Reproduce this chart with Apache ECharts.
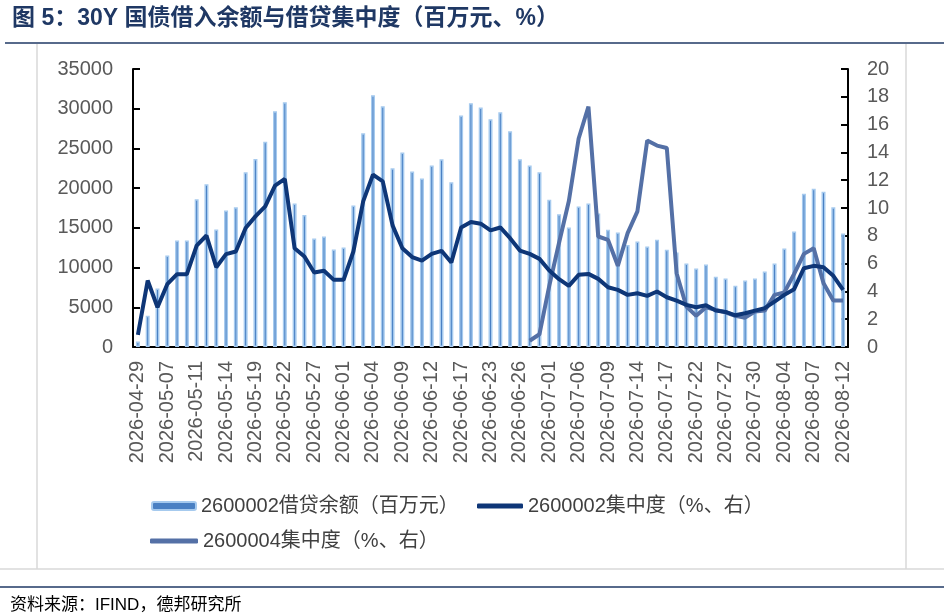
<!DOCTYPE html>
<html>
<head>
<meta charset="utf-8">
<style>
  html, body { margin: 0; padding: 0; background: #fff; }
  #main { width: 944px; height: 614px; }
</style>
<script src="https://cdn.jsdelivr.net/npm/echarts@6/dist/echarts.min.js"></script>
</head>
<body>
<div id="main"></div>
<script>
// 交易日
const dates = [
  '2026-04-29', '2026-04-30', '2026-05-06', '2026-05-07', '2026-05-08', '2026-05-09', '2026-05-11',
  '2026-05-12', '2026-05-13', '2026-05-14', '2026-05-15', '2026-05-18', '2026-05-19', '2026-05-20',
  '2026-05-21', '2026-05-22', '2026-05-25', '2026-05-26', '2026-05-27', '2026-05-28', '2026-05-29',
  '2026-06-01', '2026-06-02', '2026-06-03', '2026-06-04', '2026-06-05', '2026-06-08', '2026-06-09',
  '2026-06-10', '2026-06-11', '2026-06-12', '2026-06-15', '2026-06-16', '2026-06-17', '2026-06-18',
  '2026-06-22', '2026-06-23', '2026-06-24', '2026-06-25', '2026-06-26', '2026-06-29', '2026-06-30',
  '2026-07-01', '2026-07-02', '2026-07-03', '2026-07-06', '2026-07-07', '2026-07-08', '2026-07-09',
  '2026-07-10', '2026-07-13', '2026-07-14', '2026-07-15', '2026-07-16', '2026-07-17', '2026-07-20',
  '2026-07-21', '2026-07-22', '2026-07-23', '2026-07-24', '2026-07-27', '2026-07-28', '2026-07-29',
  '2026-07-30', '2026-07-31', '2026-08-03', '2026-08-04', '2026-08-05', '2026-08-06', '2026-08-07',
  '2026-08-10', '2026-08-11', '2026-08-12'
]

// 2600002借贷余额（百万元）
const balance = [
  700, 3950, 7360, 11520, 13410, 13410, 18590, 20480, 14800, 17200,
  17580, 21990, 23680, 25830, 29690, 30820, 18080, 16610, 13660, 13920,
  12280, 12530, 17830, 26910, 31710, 30320, 22500, 24480, 22080, 21200,
  22840, 23630, 20730, 29150, 30700, 30150, 28680, 29560, 27170, 23630,
  22840, 22000, 18550, 16700, 15060, 17700, 18080, 16820, 14760, 14430,
  12830, 13290, 12660, 13500, 12240, 11900, 10510, 9880, 10390, 8830,
  8620, 7700, 8370, 8620, 9500, 10510, 12400, 14550, 19300, 19930,
  19560, 17580, 14300
]

// 2600002集中度（%）
const conc2 = [
  0.87, 4.78, 2.86, 4.52, 5.24, 5.24, 7.30, 8.02, 5.74, 6.68,
  6.87, 8.56, 9.40, 10.12, 11.61, 12.09, 7.11, 6.51, 5.36, 5.48,
  4.83, 4.83, 6.87, 10.48, 12.40, 11.92, 8.75, 7.11, 6.47, 6.22,
  6.70, 6.92, 6.08, 8.60, 8.99, 8.87, 8.39, 8.60, 7.83, 6.94,
  6.70, 6.34, 5.50, 4.88, 4.40, 5.19, 5.26, 4.90, 4.30, 4.11,
  3.75, 3.87, 3.68, 3.99, 3.58, 3.34, 3.03, 2.86, 3.00, 2.62,
  2.52, 2.28, 2.43, 2.62, 2.79, 3.27, 3.75, 4.16, 5.67, 5.84,
  5.74, 5.12, 4.11
]

// 2600004集中度（%），6月29日起才有数据
const conc4 = [
  null, null, null, null, null, null, null, null, null, null,
  null, null, null, null, null, null, null, null, null, null,
  null, null, null, null, null, null, null, null, null, null,
  null, null, null, null, null, null, null, null, null, null,
  0.45, 0.92, 4.40, 7.50, 10.50, 15.00, 17.30, 7.95, 7.71, 5.84,
  8.19, 9.76, 14.85, 14.49, 14.32, 5.31, 2.91, 2.24, 2.86, 2.67,
  2.50, 2.24, 2.11, 2.55, 2.62, 3.75, 3.92, 5.26, 6.70, 7.11,
  4.59, 3.34, 3.34
]

const leftTicks = { min: 0, max: 35000, interval: 5000 }
const rightTicks = { min: 0, max: 20, interval: 2 }

const FONT = "Arial, 'Liberation Sans', 'Noto Sans CJK SC', sans-serif"
const names = ['2600002借贷余额（百万元）', '2600002集中度（%、右）', '2600004集中度（%、右）']

var myChart = echarts.init(document.getElementById('main'), null, { renderer: 'canvas' })

const legendText = { fontFamily: FONT, fontSize: 20, color: '#404040' }

var option = {
  backgroundColor: '#fff',
  animation: false,
  title: [
    {
      text: '图 5：30Y 国债借入余额与借贷集中度（百万元、%）',
      left: 7,
      top: 2,
      textStyle: { fontFamily: FONT, fontSize: 23, fontWeight: 'bold', color: '#1f3864' },
    },
    {
      text: '资料来源：IFIND，德邦研究所',
      left: 5,
      top: 592,
      textStyle: { fontFamily: FONT, fontSize: 17, fontWeight: 'normal', color: '#000' },
    },
  ],
  graphic: [
    { type: 'line', shape: { x1: 5, y1: 43, x2: 944, y2: 43 }, style: { stroke: '#1f3864', lineWidth: 1.5 } },
    { type: 'line', shape: { x1: 37, y1: 44, x2: 37, y2: 569 }, style: { stroke: '#d9d9d9', lineWidth: 1.5 } },
    { type: 'line', shape: { x1: 906, y1: 44, x2: 906, y2: 569 }, style: { stroke: '#d9d9d9', lineWidth: 1.5 } },
    { type: 'line', shape: { x1: 0, y1: 569, x2: 944, y2: 569 }, style: { stroke: '#d9d9d9', lineWidth: 1.5 } },
    { type: 'line', shape: { x1: 0, y1: 587, x2: 944, y2: 587 }, style: { stroke: '#1f3864', lineWidth: 1.5 } },
  ],
  legend: [
    {
      data: [names[0]],
      left: 146,
      top: 491,
      itemWidth: 44,
      itemHeight: 8,
      itemGap: 4,
      textStyle: legendText,
    },
    {
      data: [names[1]],
      icon: 'roundRect',
      left: 472,
      top: 491,
      itemWidth: 46,
      itemHeight: 5,
      textStyle: legendText,
    },
    {
      data: [names[2]],
      icon: 'roundRect',
      left: 145,
      top: 526,
      itemWidth: 48,
      itemHeight: 5,
      textStyle: legendText,
    },
  ],
  grid: { left: 133, right: 96, top: 69, bottom: 267, containLabel: false },
  xAxis: {
    type: 'category',
    data: dates,
    boundaryGap: true,
    axisLine: { lineStyle: { color: '#000', width: 2 } },
    axisTick: { inside: true, length: 5, interval: 14, lineStyle: { color: '#000', width: 2 } },
    axisLabel: {
      interval: 2,
      rotate: 90,
      margin: 14,
      fontFamily: FONT,
      fontSize: 20,
      color: '#595959',
    },
    splitLine: { show: false },
  },
  yAxis: [
    {
      type: 'value',
      min: leftTicks.min,
      max: leftTicks.max,
      interval: leftTicks.interval,
      position: 'left',
      axisLine: { show: true, lineStyle: { color: '#000', width: 2 } },
      axisTick: { show: true, inside: true, length: 7, lineStyle: { color: '#000', width: 2 } },
      axisLabel: {
        margin: 20,
        fontFamily: FONT,
        fontSize: 20,
        color: '#595959',
        formatter: (v) => String(v),
      },
      splitLine: { show: false },
    },
    {
      type: 'value',
      min: rightTicks.min,
      max: rightTicks.max,
      interval: rightTicks.interval,
      position: 'right',
      axisLine: { show: true, lineStyle: { color: '#000', width: 2 } },
      axisTick: { show: true, inside: true, length: 7, lineStyle: { color: '#000', width: 2 } },
      axisLabel: {
        margin: 19,
        fontFamily: FONT,
        fontSize: 20,
        color: '#595959',
        formatter: (v) => String(v),
      },
      splitLine: { show: false },
    },
  ],
  series: [
    {
      name: names[0],
      type: 'bar',
      yAxisIndex: 0,
      data: balance,
      barWidth: 4,
      itemStyle: { color: '#4a80c3', borderColor: '#a6caee', borderWidth: 1.5 },
      z: 1,
    },
    {
      name: names[1],
      type: 'line',
      yAxisIndex: 1,
      data: conc2,
      symbol: 'none',
      lineStyle: { color: '#0e3677', width: 4 },
      itemStyle: { color: '#0e3677' },
      z: 3,
    },
    {
      name: names[2],
      type: 'line',
      yAxisIndex: 1,
      data: conc4,
      symbol: 'none',
      connectNulls: false,
      lineStyle: { color: '#5470a6', width: 4 },
      itemStyle: { color: '#5470a6' },
      z: 2,
    },
  ],
}

myChart.setOption(option)
window.onresize = function () {
  myChart.resize()
}
</script>
</body>
</html>
